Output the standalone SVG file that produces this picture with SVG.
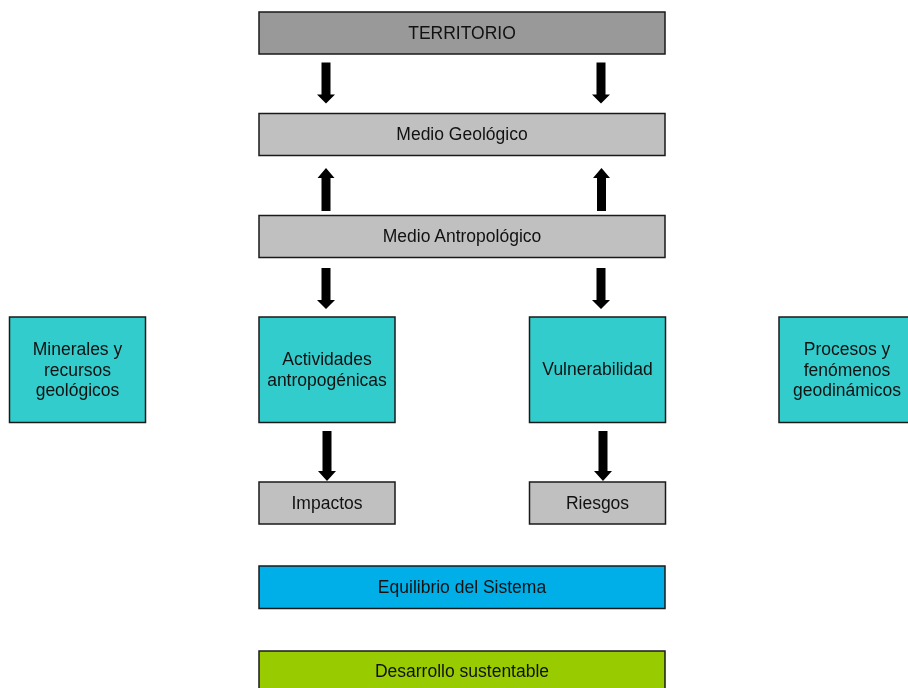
<svg xmlns="http://www.w3.org/2000/svg" width="908" height="688" viewBox="0 0 908 688">
<defs>
<style>
.box{stroke:#1a1a1a;stroke-width:1.5}
.dg{fill:#999999}
.lg{fill:#c0c0c0}
.teal{fill:#33cccc}
.blue{fill:#00aee8}
.green{fill:#99cc00}
text{font-family:"Liberation Sans",Arial,sans-serif;font-size:17.5px;fill:#111;text-anchor:middle}
.arr{fill:#000}
</style>
<filter id="soft" x="-50%" y="-20%" width="200%" height="140%"><feGaussianBlur stdDeviation="0.7"/></filter>
<polygon id="down" points="-4.5,0 4.5,0 4.5,32 9,32 0,41 -9,32 -4.5,32"/>
<polygon id="downl" points="-4.5,0 4.5,0 4.5,40 9,40 0,50 -9,40 -4.5,40"/>
<polygon id="up" points="-4.5,44 4.5,44 4.5,11 8.5,11 0,1 -8.5,11 -4.5,11"/>
</defs>
<rect width="908" height="688" fill="#fff"/>
<g id="connectors" class="arr" filter="url(#soft)">
<use href="#down" x="326" y="62.5"/>
<use href="#down" x="601" y="62.5"/>
<use href="#up" x="326" y="167"/>
<use href="#up" x="601.5" y="167"/>
<use href="#down" x="326" y="268"/>
<use href="#down" x="601" y="268"/>
<use href="#downl" x="327" y="431"/>
<use href="#downl" x="603" y="431"/>
</g>
<g id="territorio"><rect class="box dg" x="259" y="12" width="406" height="42"/><text x="462" y="38.5">TERRITORIO</text></g>
<g id="medio-geologico"><rect class="box lg" x="259" y="113.5" width="406" height="42"/><text x="462" y="140">Medio Geológico</text></g>
<g id="medio-antropologico"><rect class="box lg" x="259" y="215.5" width="406" height="42"/><text x="462" y="242">Medio Antropológico</text></g>
<g id="minerales"><rect class="box teal" x="9.5" y="317" width="136" height="105.5"/><text x="77.5" y="354.5">Minerales y</text><text x="77.5" y="375.5">recursos</text><text x="77.5" y="396">geológicos</text></g>
<g id="actividades"><rect class="box teal" x="259" y="317" width="136" height="105.5"/><text x="327" y="365">Actividades</text><text x="327" y="386">antropogénicas</text></g>
<g id="vulnerabilidad"><rect class="box teal" x="529.5" y="317" width="136" height="105.5"/><text x="597.5" y="375">Vulnerabilidad</text></g>
<g id="procesos"><rect class="box teal" x="779" y="317" width="136" height="105.5"/><text x="847" y="355">Procesos y</text><text x="847" y="375.5">fenómenos</text><text x="847" y="396">geodinámicos</text></g>
<g id="impactos"><rect class="box lg" x="259" y="482" width="136" height="42"/><text x="327" y="509">Impactos</text></g>
<g id="riesgos"><rect class="box lg" x="529.5" y="482" width="136" height="42"/><text x="597.5" y="509">Riesgos</text></g>
<g id="equilibrio"><rect class="box blue" x="259" y="566" width="406" height="42.5"/><text x="462" y="593">Equilibrio del Sistema</text></g>
<g id="desarrollo"><rect class="box green" x="259" y="651" width="406" height="42"/><text x="462" y="677">Desarrollo sustentable</text></g>
</svg>
